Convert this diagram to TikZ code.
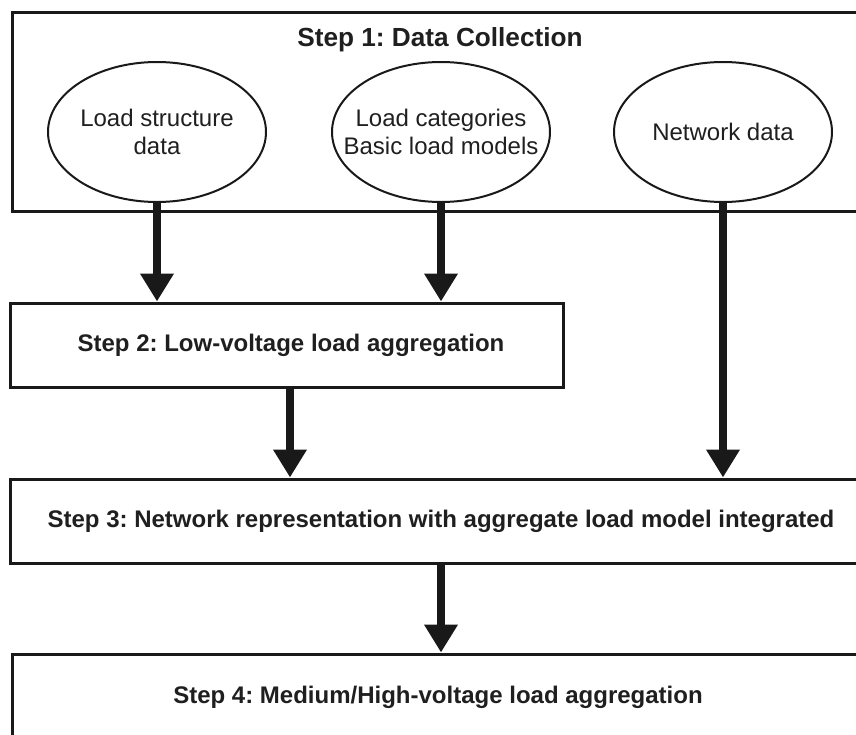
\documentclass[tikz,border=0pt]{standalone}
\usepackage{fontspec}
\setmainfont{Liberation Sans}
\frenchspacing
\usetikzlibrary{arrows.meta,shapes.geometric,positioning}

\begin{document}
\begin{tikzpicture}[x=1pt,y=-1pt]
\tikzset{
  stepbox/.style={rectangle,draw=black!90,line width=3pt,inner sep=0pt,font=\fontsize{24}{28}\bfseries\selectfont,text=black!88},
  datanode/.style={ellipse,draw=black!90,line width=2pt,inner xsep=-25pt,inner ysep=0pt,minimum width=218pt,minimum height=140pt,align=center,font=\fontsize{24}{28}\selectfont,text=black!88},
  bigarrow/.style={draw=black!90,line width=8pt,-{Triangle[length=28pt,width=32pt]},shorten <=-1pt}
}
\useasboundingbox (0,0) rectangle (856,734);
\clip (0,0) rectangle (856,734);
% step boxes (right edges run past the picture)
\node[stepbox,minimum width=856pt,minimum height=199pt] (s1) at (440,111.5) {};
\node[stepbox,minimum width=553pt,minimum height=84pt] (s2) at (287,345) {\hspace*{8pt}Step 2: Low-voltage load aggregation};
\node[stepbox,minimum width=862pt,minimum height=84pt] (s3) at (441,521) {Step 3: Network representation with aggregate load model integrated};
\node[stepbox,minimum width=852pt,minimum height=86pt] (s4) at (438,697) {Step 4: Medium/High-voltage load aggregation};
\node[font=\fontsize{26.2}{30}\bfseries\selectfont,text=black!88] (t1) at (440,40) {Step 1: Data Collection};
% data sources
\node[datanode] (lsd) at (157,132) {Load structure\\data};
\node[datanode] (cat) at (441,132) {Load categories\\Basic load models};
\node[datanode] (net) at (723,132) {Network data};
% arrows
\draw[bigarrow] (lsd.south) -- (lsd.south |- s2.north);
\draw[bigarrow] (cat.south) -- (cat.south |- s2.north);
\draw[bigarrow] (net.south) -- (net.south |- s3.north);
\draw[bigarrow] ([xshift=3pt]s2.south) -- ([xshift=3pt]s2.south |- s3.north);
\draw[bigarrow] (s3.south) -- (s3.south |- s4.north);
\end{tikzpicture}
\end{document}
